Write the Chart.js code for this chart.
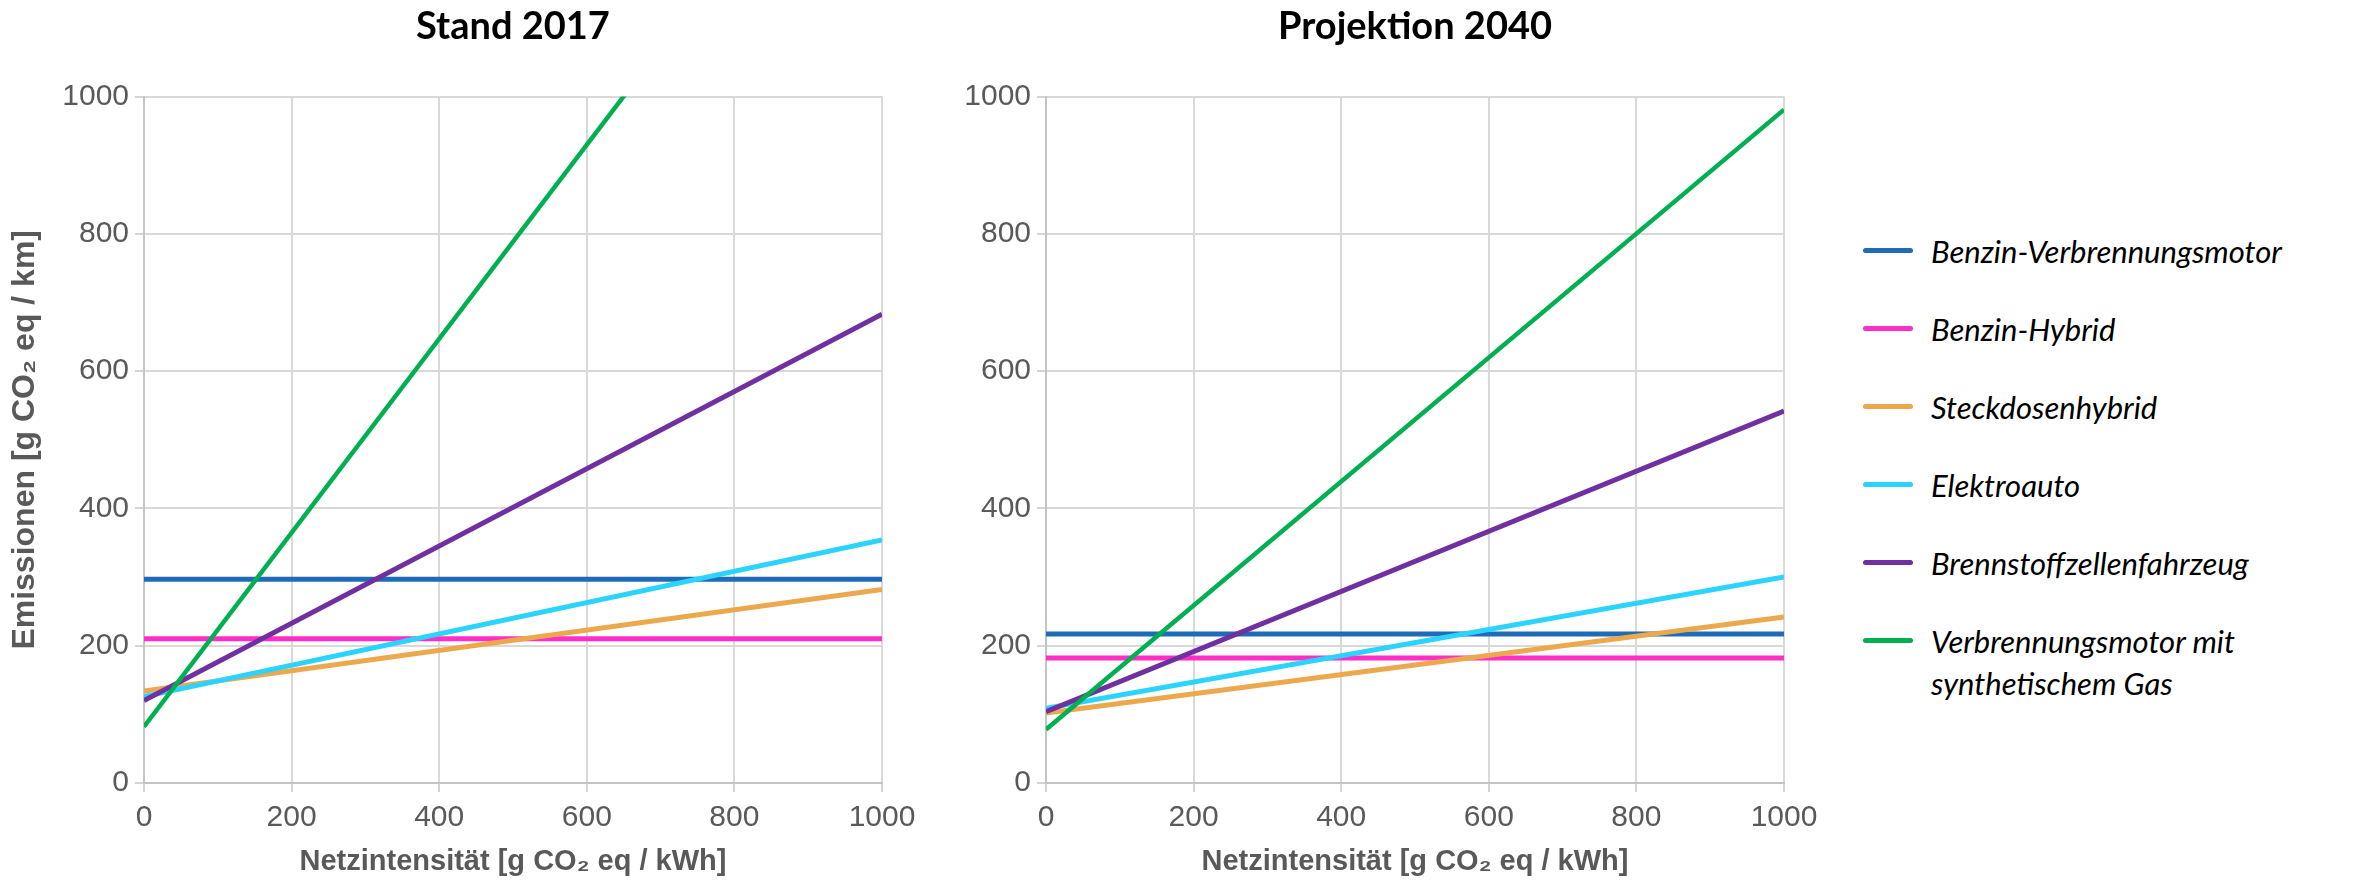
<!DOCTYPE html>
<html>
<head>
    <meta charset="UTF-8">
    <title>Emissionen nach Netzintensität</title>
    <script src="https://cdn.jsdelivr.net/npm/chart.js"></script>
    <style>
        body { margin: 0; background: #fff; width: 2371px; height: 880px; position: relative; overflow: hidden; }
        canvas { position: absolute; top: 0; }
        #left { left: 0; }
        #right { left: 940px; }
        #legend { position: absolute; left: 1863px; top: 0; font-family: Lato, "Noto Sans", sans-serif; font-style: italic; font-size: 31px; line-height: 42px; color: #000; }
        .item { position: absolute; left: 0; display: flex; align-items: flex-start; white-space: nowrap; }
        .swatch { width: 50px; height: 5px; border-radius: 3px; margin-top: 18px; margin-right: 18px; flex: none; }
    </style>
</head>
<body>
    <canvas id="left" width="930" height="880"></canvas>
    <canvas id="right" width="890" height="880"></canvas>
    <div id="legend"></div>

    <script>
        // x values: grid intensity [g CO2 eq / kWh], each series is a straight line
        const xValues = [0, 1000];
        const xTicks = [0, 200, 400, 600, 800, 1000];

        const seriesNames = [
            'Benzin-Verbrennungsmotor',
            'Benzin-Hybrid',
            'Steckdosenhybrid',
            'Elektroauto',
            'Brennstoffzellenfahrzeug',
            'Verbrennungsmotor mit\nsynthetischem Gas'
        ];
        const seriesColors = ['#1E6BB8', '#FF2EC8', '#ECA84C', '#2AD4FF', '#7030A0', '#00B050'];

        // Stand 2017 (values at x = 0 and x = 1000)
        const benzin2017 = [297, 297];
        const hybrid2017 = [210, 210];
        const plugin2017 = [134, 282];
        const elektro2017 = [126, 354];
        const brennstoff2017 = [120, 683];
        const synGas2017 = [82, 1495];

        // Projektion 2040
        const benzin2040 = [217, 217];
        const hybrid2040 = [182, 182];
        const plugin2040 = [102, 242];
        const elektro2040 = [109, 300];
        const brennstoff2040 = [104, 542];
        const synGas2040 = [78, 981];

        const tickFont = { family: '"Liberation Sans", Arial, sans-serif', size: 30 };
        const xTitleFont = { family: '"Liberation Sans", Arial, sans-serif', size: 29, weight: 'bold' };
        const yTitleFont = { family: '"Liberation Sans", Arial, sans-serif', size: 32, weight: 'bold' };

        function makeDatasets(seriesList) {
            return seriesList.map((vals, i) => ({
                label: seriesNames[i],
                data: xValues.map((x, j) => ({ x: x, y: vals[j] })),
                borderColor: seriesColors[i],
                borderWidth: i === 5 ? 4.5 : 5,
                pointRadius: 0,
                tension: 0,
                order: seriesList.length - i
            }));
        }

        function makeChart(id, title, seriesList, showYTitle, yWidth, padRight) {
            const grid = { color: '#d9d9d9', lineWidth: 2, tickLength: 9, tickColor: '#d4d4d4' };
            const border = { display: true, color: '#c4c4c4', width: 2 };
            return new Chart(document.getElementById(id), {
                type: 'line',
                data: { datasets: makeDatasets(seriesList) },
                options: {
                    responsive: false,
                    animation: false,
                    layout: { padding: { left: 0, right: padRight, top: 0, bottom: 0 } },
                    plugins: {
                        legend: { display: false },
                        tooltip: { enabled: false },
                        title: {
                            display: true,
                            text: title,
                            fullSize: false,
                            color: '#000',
                            font: { family: 'Lato, "Noto Sans", sans-serif', size: 38, weight: 'bold' },
                            padding: { top: 4, bottom: 47 }
                        }
                    },
                    scales: {
                        x: {
                            type: 'linear',
                            min: 0,
                            max: 1000,
                            afterBuildTicks: s => { s.ticks = xTicks.map(v => ({ value: v })); },
                            afterFit: s => { s.height = 97; },
                            ticks: { color: '#595959', font: tickFont, padding: 8, maxRotation: 0, callback: v => String(v) },
                            grid: grid,
                            border: border,
                            title: {
                                display: true,
                                text: 'Netzintensität [g CO₂ eq / kWh]',
                                color: '#595959',
                                font: xTitleFont,
                                padding: { top: 0, bottom: 1 }
                            }
                        },
                        y: {
                            min: 0,
                            max: 1000,
                            afterFit: s => { s.width = yWidth; },
                            ticks: { stepSize: 200, color: '#595959', font: tickFont, padding: 6, callback: v => String(v) },
                            grid: grid,
                            border: border,
                            title: {
                                display: showYTitle,
                                text: 'Emissionen [g CO₂ eq / km]',
                                color: '#595959',
                                font: yTitleFont,
                                padding: { top: 6, bottom: 0 }
                            }
                        }
                    }
                }
            });
        }

        makeChart('left', 'Stand 2017',
            [benzin2017, hybrid2017, plugin2017, elektro2017, brennstoff2017, synGas2017], true, 144, 48);
        makeChart('right', 'Projektion 2040',
            [benzin2040, hybrid2040, plugin2040, elektro2040, brennstoff2040, synGas2040], false, 106, 46);

        // legend on the right, built from the same names and colours
        const legend = document.getElementById('legend');
        seriesNames.forEach((name, i) => {
            const item = document.createElement('div');
            item.className = 'item';
            item.style.top = (251 - 21 + i * 78) + 'px';
            const sw = document.createElement('span');
            sw.className = 'swatch';
            sw.style.background = seriesColors[i];
            const txt = document.createElement('span');
            txt.innerHTML = name.replace('\n', '<br>');
            item.appendChild(sw);
            item.appendChild(txt);
            legend.appendChild(item);
        });
    </script>
</body>
</html>
